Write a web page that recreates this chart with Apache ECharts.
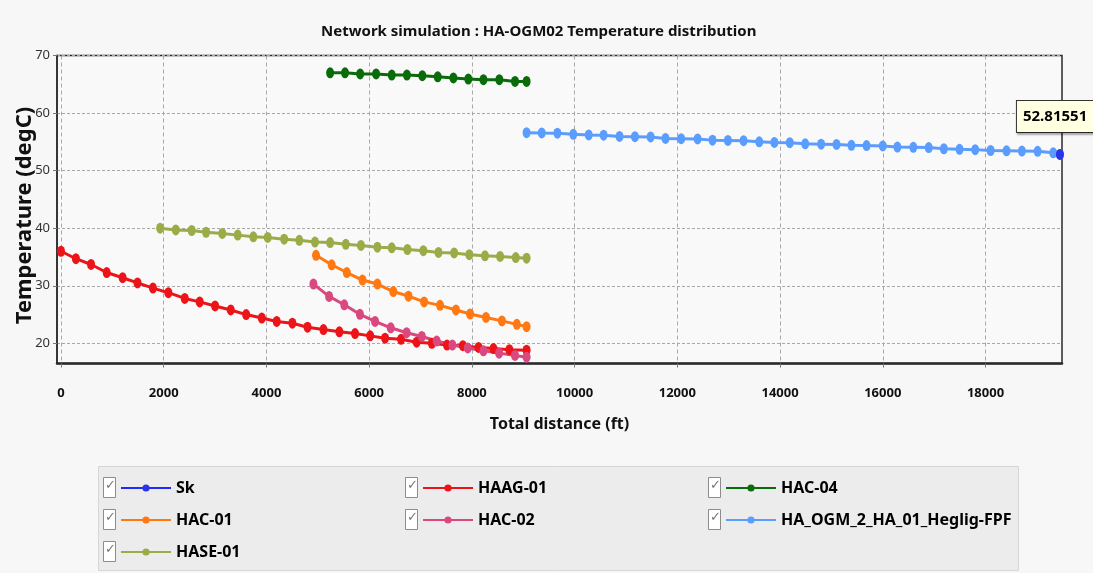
<!DOCTYPE html>
<html>
<head>
<meta charset="utf-8">
<script src="https://cdn.jsdelivr.net/npm/echarts@6/dist/echarts.min.js"></script>
<style>
  html, body { margin: 0; padding: 0; background: #f7f7f7; }
  #chart { width: 1093px; height: 573px; }
</style>
</head>
<body>
<div id="chart"></div>
<script>
// Temperature profile along each pipeline segment (distance in ft, temperature in degC)
const skX = [19450];
const skT = [52.81551];

const haag01X = [0, 290, 585, 890, 1200, 1490, 1790, 2090, 2410, 2700, 3000, 3305, 3605, 3910, 4200, 4505, 4800, 5110, 5420, 5725, 6020, 6310, 6620, 6925, 7220, 7515, 7825, 8130, 8420, 8730, 9065];
const haag01T = [36.0, 34.7, 33.7, 32.3, 31.4, 30.5, 29.6, 28.8, 27.8, 27.2, 26.5, 25.8, 25.0, 24.4, 23.8, 23.5, 22.8, 22.4, 22.0, 21.7, 21.3, 20.9, 20.7, 20.2, 20.0, 19.7, 19.6, 19.3, 19.1, 18.9, 18.8];

const hac04X = [5240, 5530, 5825, 6135, 6440, 6735, 7035, 7335, 7640, 7930, 8225, 8535, 8840, 9065];
const hac04T = [67.0, 67.0, 66.8, 66.8, 66.6, 66.6, 66.5, 66.3, 66.1, 65.9, 65.8, 65.8, 65.5, 65.5];

const hac01X = [4965, 5270, 5565, 5870, 6160, 6470, 6765, 7070, 7380, 7690, 7965, 8275, 8585, 8875, 9065];
const hac01T = [35.3, 33.65, 32.3, 31.0, 30.3, 29.0, 28.2, 27.2, 26.6, 25.8, 25.1, 24.5, 23.9, 23.3, 22.9];

const hac02X = [4915, 5220, 5515, 5820, 6115, 6420, 6730, 7025, 7315, 7620, 7920, 8225, 8530, 8840, 9065];
const hac02T = [30.3, 28.15, 26.7, 25.05, 23.8, 22.7, 21.85, 21.2, 20.4, 19.7, 19.2, 18.7, 18.3, 17.9, 17.6];

const ogmX = [9065, 9360, 9665, 9975, 10275, 10565, 10875, 11175, 11480, 11770, 12075, 12395, 12685, 12985, 13290, 13595, 13890, 14190, 14490, 14800, 15100, 15390, 15685, 16000, 16285, 16595, 16895, 17190, 17495, 17800, 18100, 18410, 18710, 19015, 19320, 19450];
const ogmT = [56.6, 56.55, 56.5, 56.3, 56.2, 56.15, 55.95, 55.9, 55.85, 55.6, 55.55, 55.5, 55.3, 55.25, 55.2, 55.0, 54.9, 54.85, 54.65, 54.6, 54.55, 54.4, 54.35, 54.3, 54.1, 54.05, 54.0, 53.8, 53.7, 53.65, 53.5, 53.45, 53.4, 53.35, 53.1, 52.82];

const hase01X = [1930, 2235, 2545, 2825, 3140, 3440, 3745, 4025, 4345, 4640, 4945, 5240, 5545, 5840, 6160, 6440, 6745, 7055, 7350, 7655, 7950, 8255, 8550, 8855, 9065];
const hase01T = [40.0, 39.7, 39.6, 39.3, 39.1, 38.8, 38.5, 38.4, 38.1, 37.9, 37.6, 37.5, 37.2, 37.0, 36.7, 36.6, 36.3, 36.1, 35.8, 35.7, 35.4, 35.2, 35.1, 34.9, 34.8];

const xTicks = [0, 2000, 4000, 6000, 8000, 10000, 12000, 14000, 16000, 18000];
const yTicks = [20, 30, 40, 50, 60, 70];

const FONT = "'Noto Sans', 'Open Sans', sans-serif";

const seriesDefs = [
  { name: 'Sk', xs: skX, ys: skT, color: '#1f2bff' },
  { name: 'HAAG-01', xs: haag01X, ys: haag01T, color: '#ec1418' },
  { name: 'HAC-04', xs: hac04X, ys: hac04T, color: '#0a6b0a' },
  { name: 'HAC-01', xs: hac01X, ys: hac01T, color: '#ff7812' },
  { name: 'HAC-02', xs: hac02X, ys: hac02T, color: '#d9487e' },
  { name: 'HA_OGM_2_HA_01_Heglig-FPF', xs: ogmX, ys: ogmT, color: '#5b9cff' },
  { name: 'HASE-01', xs: hase01X, ys: hase01T, color: '#9aac48' }
];

const series = seriesDefs.map(function (d) {
  const s = {
    name: d.name,
    type: 'line',
    data: d.xs.map(function (x, i) { return [x, d.ys[i]]; }),
    symbol: 'circle',
    symbolSize: [8, 11],
    showAllSymbol: true,
    color: d.color,
    lineStyle: { width: 3, color: d.color },
    itemStyle: { color: d.color },
    emphasis: { disabled: true },
    animation: false,
    z: 3
  };
  if (d.name === 'Sk') {
    s.z = 5;
    s.itemStyle = { color: '#2a35e8' };
    // value readout box at the end of the line
    s.label = {
      show: true,
      position: [-39, -48],
      align: 'left',
      verticalAlign: 'top',
      formatter: function (p) { return String(p.value[1]); },
      fontFamily: FONT,
      fontSize: 15,
      fontWeight: 'bold',
      color: '#000',
      backgroundColor: '#ffffe1',
      borderColor: '#333',
      borderWidth: 1,
      padding: [8, 10, 8, 6],
      shadowColor: 'rgba(0,0,0,0.25)',
      shadowOffsetX: 1,
      shadowOffsetY: 2,
      shadowBlur: 2
    };
  }
  return s;
});

const legendCommon = {
  orient: 'vertical',
  top: 474,
  itemWidth: 50,
  itemHeight: 9,
  itemGap: 14,
  selectedMode: false,
  textStyle: { fontFamily: FONT, fontSize: 16, fontWeight: 'bold', color: '#000', lineHeight: 18 }
};
const legendCols = [
  { left: 115, data: ['Sk', 'HAC-01', 'HASE-01'] },
  { left: 417, data: ['HAAG-01', 'HAC-02'] },
  { left: 720, data: ['HAC-04', 'HA_OGM_2_HA_01_Heglig-FPF'] }
];
const legends = legendCols.map(function (c) { return Object.assign({}, legendCommon, c); });

// checkbox boxes drawn next to every legend entry
const checkCols = [103, 405, 708];
const checkRows = [[487, 519, 551], [487, 519], [487, 519]];
const graphics = [{
  type: 'rect', left: 98, top: 466, z: 0,
  shape: { width: 920, height: 104 },
  style: { fill: '#ececec', stroke: '#d6d6d6', lineWidth: 1 }
}];
checkCols.forEach(function (cx, ci) {
  checkRows[ci].forEach(function (cy) {
    graphics.push({
      type: 'rect', left: cx, top: cy - 10, z: 1,
      shape: { width: 12, height: 20 },
      style: { fill: '#ffffff', stroke: '#8c8c8c', lineWidth: 1 }
    });
    graphics.push({
      type: 'text', left: cx + 2, top: cy - 8, z: 2,
      style: { text: '\u2713', fill: '#777', font: '13px DejaVu Sans' }
    });
  });
});

const chart = echarts.init(document.getElementById('chart'), null, { renderer: 'canvas' });
chart.setOption({
  backgroundColor: '#f7f7f7',
  animation: false,
  title: {
    text: 'Network simulation : HA-OGM02 Temperature distribution',
    left: 316,
    top: 19,
    textStyle: { fontFamily: FONT, fontSize: 15, fontWeight: 'bold', color: '#111' }
  },
  grid: {
    left: 57, right: 31, top: 55.5, bottom: 209.5,
    outerBoundsMode: 'none',
    show: true,
    backgroundColor: '#f9f9f9',
    borderColor: '#2a2a2a',
    borderWidth: 1.5
  },
  xAxis: {
    type: 'value',
    min: -78,
    max: 19490,
    name: 'Total distance (ft)',
    nameLocation: 'middle',
    nameGap: 53,
    nameMoveOverlap: false,
    nameTextStyle: { fontFamily: FONT, fontSize: 16, fontWeight: 'bold', color: '#111' },
    axisLine: { show: true, onZero: false, lineStyle: { color: '#2a2a2a', width: 2.5 } },
    axisTick: { show: true, length: 4, lineStyle: { color: '#777' }, customValues: xTicks },
    axisLabel: {
      fontFamily: FONT, fontSize: 13, fontWeight: 'bold', color: '#111', margin: 23,
      customValues: xTicks,
      formatter: function (v) { return String(v); }
    },
    splitLine: { show: true, lineStyle: { color: '#a8a8a8', type: [4, 3], width: 1 } }
  },
  yAxis: {
    type: 'value',
    min: 16.5,
    max: 70,
    name: 'Temperature (degC)',
    nameLocation: 'middle',
    nameGap: 21,
    nameMoveOverlap: false,
    nameTextStyle: {
      fontFamily: FONT, fontSize: 22, fontWeight: 'bold', color: '#111',
      padding: [0, 12, 0, 0]
    },
    axisLine: { show: true, onZero: false, lineStyle: { color: '#2a2a2a', width: 1.5 } },
    axisTick: { show: true, length: 4, lineStyle: { color: '#777' }, customValues: yTicks },
    axisLabel: {
      fontFamily: FONT, fontSize: 13, color: '#333', margin: 7,
      customValues: yTicks,
      formatter: function (v) { return String(v); }
    },
    splitLine: { show: true, lineStyle: { color: '#a8a8a8', type: [3, 2], width: 1 } }
  },
  legend: legends,
  graphic: graphics,
  series: series
});
</script>
</body>
</html>
